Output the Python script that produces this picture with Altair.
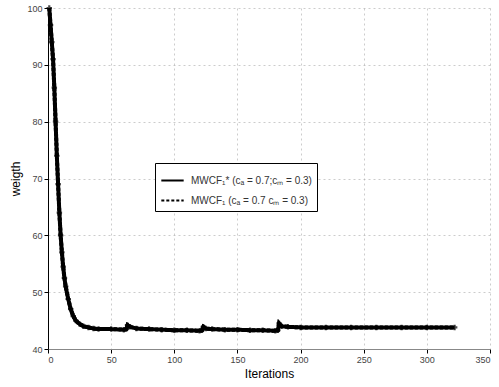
import altair as alt
import pandas as pd

iters = [1, 2, 3, 4, 5, 6, 7, 8, 9, 10, 11, 12, 13, 14, 16, 18, 20, 22, 25, 28, 32, 36, 40, 50, 60, 62,
         63, 65, 70, 80, 90, 100, 110, 120, 122, 123, 125, 130, 140, 150, 160, 170, 180, 182, 183, 185,
         190, 200, 220, 240, 260, 280, 300, 322]
weights = [100, 97, 94, 91, 86, 80, 74, 69, 64, 60, 57, 54.5, 52.5, 51, 48.8, 47, 45.8, 45, 44.4, 44,
           43.8, 43.6, 43.5, 43.5, 43.4, 43.5, 44.2, 43.9, 43.6, 43.5, 43.4, 43.3, 43.3, 43.2, 43.3, 43.9,
           43.6, 43.5, 43.4, 43.4, 43.3, 43.3, 43.2, 43.3, 44.5, 44.0, 43.9, 43.8, 43.8, 43.8, 43.8, 43.8,
           43.8, 43.8]
series_names = ["MWCF\u2081* (c\u2090 = 0.7;c\u2098 = 0.3)", "MWCF\u2081 (c\u2090 = 0.7 c\u2098 = 0.3)"]
x_ticks = [0, 50, 100, 150, 200, 250, 300, 350]
y_ticks = [40, 50, 60, 70, 80, 90, 100]

rows = []
for s in series_names:
    for i, w in zip(iters, weights):
        rows.append({"Iterations": i, "weight": w, "series": s})
df = pd.DataFrame(rows)

x = alt.X("Iterations:Q", scale=alt.Scale(domain=[0, 350], nice=False),
          axis=alt.Axis(values=x_ticks, title="Iterations"))
y = alt.Y("weight:Q", scale=alt.Scale(domain=[40, 100], nice=False, zero=False),
          axis=alt.Axis(values=y_ticks, title="weigth"))

color = alt.Color("series:N", scale=alt.Scale(domain=series_names, range=["black", "black"]),
                  legend=alt.Legend(title=None, orient="none", legendX=107, legendY=155,
                                    symbolType="stroke", symbolStrokeWidth=2, symbolSize=500,
                                    strokeColor="black", fillColor="white", padding=5,
                                    rowPadding=2, labelOffset=6,
                                    labelFont="Liberation Sans", labelFontSize=10, labelColor="#333"))
dash = alt.StrokeDash("series:N", scale=alt.Scale(domain=series_names, range=[[1, 0], [3, 2]]),
                      legend=None)

lines = alt.Chart(df).mark_line(strokeWidth=4).encode(
    x=x, y=y, color=color, strokeDash=dash, order=alt.Order("Iterations:Q"))

pts = alt.Chart(df[df["series"] == series_names[0]]).mark_point(
    shape="cross", filled=True, color="black", size=30).encode(x=x, y=y)

chart = (lines + pts).properties(
    width=442, height=341,
    autosize=alt.AutoSizeParams(type="none"),
    padding={"left": 48, "top": 8, "right": 9, "bottom": 38},
).configure_view(stroke=None).configure_axis(
    labelFont="Liberation Sans", labelFontSize=9, labelColor="#444",
    titleFont="Liberation Sans", titleFontSize=12, titleFontWeight="normal", titleColor="black",
    gridColor="#aaa", gridDash=[2, 3], gridOpacity=0.6, tickColor="black", tickSize=4,
    domainColor="black",
).configure_axisX(domainColor="#888", titlePadding=4).configure_axisY(titlePadding=4)

chart.save("out.html", embed_options={"renderer": "svg", "actions": False})
